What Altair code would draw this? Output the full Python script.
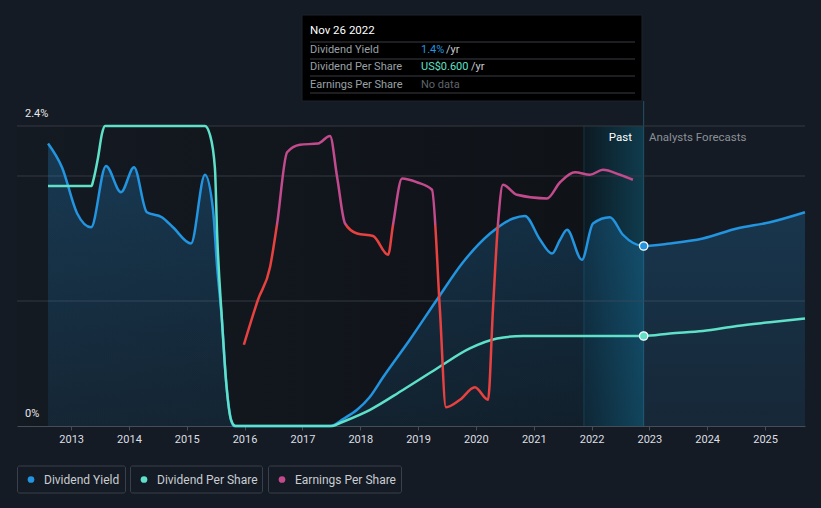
import altair as alt
import pandas as pd

# ---------------- data ----------------
yield_dates = ["2012-08-08", "2012-11-04", "2013-02-08", "2013-05-07", "2013-08-09",
               "2013-11-12", "2014-02-02", "2014-04-24", "2014-07-28", "2014-10-06",
               "2015-01-28", "2015-04-26", "2015-06-16", "2015-07-12", "2015-08-10",
               "2015-09-08", "2015-10-08", "2015-10-24", "2017-06-24", "2017-09-20",
               "2017-12-12", "2018-03-01", "2018-05-25", "2018-11-10",
               "2019-04-30", "2019-10-12", "2020-03-31", "2020-08-23", "2020-11-06",
               "2021-02-10", "2021-04-26", "2021-06-16", "2021-07-30", "2021-11-01",
               "2022-01-10", "2022-04-27", "2022-07-18", "2022-11-26",
               "2023-05-11", "2023-12-05", "2024-07-07", "2025-02-01", "2025-09-10"]
yield_pct = [2.26, 2.07, 1.70, 1.59, 2.08,
             1.87, 2.07, 1.71, 1.67, 1.59,
             1.46, 2.01, 1.73, 1.27, 0.87,
             0.34, 0.05, 0.0, 0.0, 0.06,
             0.13, 0.23, 0.39, 0.69,
             1.01, 1.31, 1.54, 1.66, 1.68,
             1.49, 1.38, 1.49, 1.57, 1.33,
             1.62, 1.67, 1.53, 1.44,
             1.46, 1.50, 1.58, 1.63, 1.71]

dps_dates = ["2012-08-08", "2013-05-10", "2013-05-19", "2013-06-20", "2013-07-15",
             "2013-08-03", "2015-04-26", "2015-05-28", "2015-06-28", "2015-07-12",
             "2015-08-10", "2015-09-08", "2015-10-08", "2015-11-05", "2017-07-10",
             "2017-08-26", "2018-03-04", "2018-09-27", "2019-04-30", "2019-11-24",
             "2020-05-14", "2020-10-24", "2022-11-26",
             "2023-05-11", "2023-12-05", "2024-07-07", "2025-02-01", "2025-09-10"]
dps_usd = [1.60, 1.60, 1.63, 1.79, 1.95,
           2.00, 2.00, 1.94, 1.72, 1.28,
           0.73, 0.28, 0.04, 0.0, 0.0,
           0.02, 0.108, 0.24, 0.383, 0.517,
           0.583, 0.60, 0.60,
           0.617, 0.633, 0.667, 0.692, 0.717]
dps_to_axis = 1.2  # US$2.00 sits on the 2.4% gridline

eps_dates = ["2015-12-28", "2016-03-26", "2016-06-10", "2016-07-24", "2016-09-26",
             "2016-12-16", "2017-04-09", "2017-06-24", "2017-08-08", "2017-09-27",
             "2017-12-12", "2018-03-23", "2018-06-26", "2018-07-27", "2018-09-22",
             "2018-12-25", "2019-03-30", "2019-05-19", "2019-06-26", "2019-09-23",
             "2019-12-26", "2020-03-18", "2020-04-18", "2020-05-20", "2020-06-20",
             "2020-09-17", "2021-03-25", "2021-06-16", "2021-09-18", "2021-12-22",
             "2022-03-14", "2022-06-29", "2022-09-19"]
eps_scaled = [0.65, 1.01, 1.27, 1.61, 2.19,
              2.25, 2.26, 2.32, 1.99, 1.62,
              1.54, 1.52, 1.37, 1.61, 1.98,
              1.95, 1.89, 0.93, 0.15, 0.21,
              0.31, 0.21, 0.93, 1.62, 1.93,
              1.85, 1.82, 1.95, 2.03, 2.01,
              2.05, 2.01, 1.97]
eps_threshold = 1.61

year_ticks = list(range(2013, 2026))
y_label_vals = [0.0, 2.4]
y_label_text = ["0%", "2.4%"]
grid_vals = [1.0, 2.0, 2.4]
domain_start = "2012-01-25"
domain_end = "2025-09-10"
past_start = "2021-11-14"
today = "2022-11-26"
y_top = 2.6

legend_labels = ["Dividend Yield", "Dividend Per Share", "Earnings Per Share"]

# ---------------- styling ----------------
BG = "#151b24"
BLUE = "#2394df"
TEAL = "#5fe0c8"
MAGENTA = "#c24a8d"
RED = "#e8413f"
FONT = "Roboto"
W, H = 788, 325


def dt(s):
    y, m, d = (int(p) for p in s.split("-"))
    return alt.DateTime(year=y, month=m, date=d, utc=True)


x_scale = alt.Scale(type="utc", domain=[dt(domain_start), dt(domain_end)])
y_scale = alt.Scale(domain=[0, y_top], nice=False, zero=True)
x_axis = alt.Axis(values=[dt("%d-01-01" % y) for y in year_ticks],
                  format="%Y", title=None, grid=False, labelFont=FONT, labelFontSize=11,
                  labelColor="#dcdfe3", tickColor="#474d56", tickSize=4,
                  domainColor="#474d56", labelPadding=3, labelFlush=False)


def X(field):
    return alt.X(field, type="temporal", scale=x_scale, axis=x_axis)


def Y(field):
    return alt.Y(field, type="quantitative", scale=y_scale, axis=None)


def grad(stops, horizontal=False):
    return alt.LinearGradient(
        gradient="linear", x1=0, y1=0, x2=1 if horizontal else 0, y2=0 if horizontal else 1,
        stops=[alt.GradientStop(color=c, offset=o) for c, o in stops])


yield_df = pd.DataFrame({"date": yield_dates, "v": yield_pct})
dps_df = pd.DataFrame({"date": dps_dates, "v": [u * dps_to_axis for u in dps_usd]})
eps_df = pd.DataFrame({"date": eps_dates, "v": eps_scaled})
one = pd.DataFrame({"a": [0]})

# past background
past_bg = alt.Chart(pd.DataFrame({"start": [domain_start], "end": [past_start],
                                  "y0": [0.0], "y1": [2.4]})).mark_rect(
    fill=grad([("#141a22", 0), ("#0f1217", 1)], horizontal=True)
).encode(x=X("start"), x2="end:T", y=Y("y0"), y2="y1:Q")

past_hl = alt.Chart(pd.DataFrame({"start": [past_start], "end": [today],
                                  "y0": [0.0], "y1": [2.4]})).mark_rect(
    fill=grad([("#0c1a22", 0), ("#0f3c4e", 1)], horizontal=True)
).encode(x=X("start"), x2="end:T", y=Y("y0"), y2="y1:Q")

rules = alt.Chart(pd.DataFrame({"date": [past_start, today], "y0": [0.0, 0.0],
                                "y1": [2.4, y_top], "c": ["#173642", "#1f5566"]})).mark_rule(
    strokeWidth=1).encode(x=X("date"), y=Y("y0"), y2="y1:Q",
                          color=alt.Color("c:N", scale=None, legend=None))

grid = alt.Chart(pd.DataFrame({"v": grid_vals})).mark_rule(
    color="#343940", strokeWidth=1).encode(y=Y("v"))

ylabels = alt.Chart(pd.DataFrame({"v": y_label_vals, "t": y_label_text})).mark_text(
    align="left", baseline="middle", dy=-12, font=FONT, fontSize=11, color="#e6e8ea"
).encode(x=alt.value(8), y=Y("v"), text="t:N")

area = alt.Chart(yield_df).mark_area(
    interpolate="monotone",
    fill=grad([("rgba(35,148,223,0.26)", 0), ("rgba(35,148,223,0.10)", 1)])
).encode(x=X("date"), y=Y("v"))

yield_line = alt.Chart(yield_df).mark_line(
    interpolate="monotone", color=BLUE, strokeWidth=2.5).encode(x=X("date"), y=Y("v"))

dps_line = alt.Chart(dps_df).mark_line(
    interpolate="monotone", color=TEAL, strokeWidth=2.5).encode(x=X("date"), y=Y("v"))

frac = (max(eps_scaled) - eps_threshold) / (max(eps_scaled) - min(eps_scaled))
eps_line = alt.Chart(eps_df).mark_line(
    interpolate="monotone", strokeWidth=2.5,
    stroke=grad([(MAGENTA, 0), (MAGENTA, frac), (RED, frac + 0.002), (RED, 1)])
).encode(x=X("date"), y=Y("v"))

i_y = yield_dates.index(today)
i_d = dps_dates.index(today)
dot_y = alt.Chart(pd.DataFrame({"date": [today], "v": [yield_pct[i_y]]})).mark_point(
    filled=True, size=70, fill=BLUE, stroke="white", strokeWidth=1.3, opacity=1, shape="circle"
).encode(x=X("date"), y=Y("v"))
dot_d = alt.Chart(pd.DataFrame({"date": [today], "v": [dps_usd[i_d] * dps_to_axis]})).mark_point(
    filled=True, size=70, fill=TEAL, stroke="white", strokeWidth=1.3, opacity=1, shape="circle"
).encode(x=X("date"), y=Y("v"))


def txt(text, x, y, color, size=11, align="left"):
    return alt.Chart(one).mark_text(
        text=text, align=align, baseline="middle", font=FONT, fontSize=size, color=color
    ).encode(x=alt.value(x), y=alt.value(y))


def hline(x0, x1, y, color):
    return alt.Chart(one).mark_rule(color=color, strokeWidth=1).encode(
        x=alt.value(x0), x2=alt.value(x1), y=alt.value(y))


past_txt = txt("Past", 615, 37, "#ffffff", 11.5, "right")
fc_txt = txt("Analysts Forecasts", 632, 37, "#8b9097", 11.5)

# tooltip box
tip_box = alt.Chart(one).mark_rect(fill="#000000", stroke="#1c232b", strokeWidth=1).encode(
    x=alt.value(285), x2=alt.value(625), y=alt.value(-86), y2=alt.value(0))
tip_parts = [tip_box]
for yy in [-59, -42, -25, -8]:
    tip_parts.append(hline(293, 618, yy, "#3a3d42"))
date_label = pd.Timestamp(today).strftime("%b %d %Y")
tip_parts.append(txt(date_label, 293, -70, "#ffffff", 11.5))
for lab, yy in zip(legend_labels, [-51, -34, -16]):
    tip_parts.append(txt(lab, 293, yy, "#9aa0a6"))
tip_parts += [
    txt("%.1f%%" % yield_pct[i_y], 404, -51, BLUE),
    txt("/yr", 429, -51, "#c8ccd0"),
    txt("US$%.3f" % dps_usd[i_d], 404, -34, TEAL),
    txt("/yr", 454, -34, "#c8ccd0"),
    txt("No data", 404, -16, "#5f646b"),
]

# legend
legend_boxes = [(0, 109), (113, 246), (251, 385)]
legend_colors = [BLUE, TEAL, MAGENTA]
legend_layers = []
for (lx0, lx1), lab, col in zip(legend_boxes, legend_labels, legend_colors):
    legend_layers.append(alt.Chart(one).mark_rect(
        fill=BG, stroke="#3a4049", strokeWidth=1, cornerRadius=2).encode(
        x=alt.value(lx0 + 0.5), x2=alt.value(lx1 - 0.5), y=alt.value(365), y2=alt.value(392)))
    legend_layers.append(alt.Chart(one).mark_circle(size=45, color=col, opacity=1).encode(
        x=alt.value(lx0 + 14), y=alt.value(378.5)))
    legend_layers.append(txt(lab, lx0 + 27, 378.5, "#c9cdd2", 12))

chart = alt.layer(
    past_bg, past_hl, rules, grid, ylabels, area, yield_line, dps_line, eps_line,
    dot_y, dot_d, past_txt, fc_txt, *tip_parts, *legend_layers
).properties(
    width=W, height=H,
    padding={"left": 17, "top": 101, "right": 16, "bottom": 82},
    autosize=alt.AutoSizeParams(type="none"),
    background=BG,
).configure_view(stroke=None)

chart.save("out.html", embed_options={"renderer": "svg", "actions": False})
